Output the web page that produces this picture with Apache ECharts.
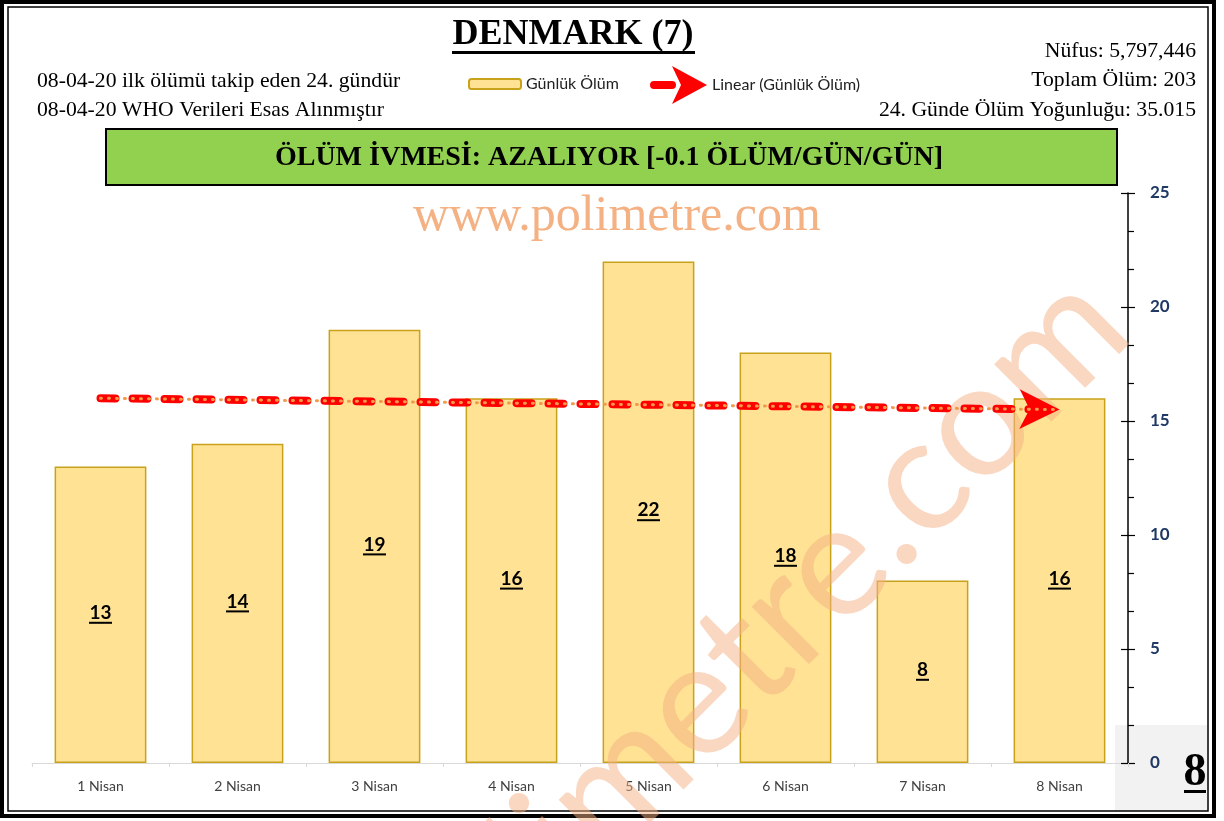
<!DOCTYPE html>
<html>
<head>
<meta charset="utf-8">
<script src="https://cdn.jsdelivr.net/npm/echarts@6/dist/echarts.min.js"></script>
<style>
  html, body { margin: 0; padding: 0; background: #fff; }
  #main { width: 1224px; height: 821px; }
</style>
</head>
<body>
<div id="main"></div>
<script>
"use strict"
// daily deaths, Denmark
const categories = ['1 Nisan', '2 Nisan', '3 Nisan', '4 Nisan', '5 Nisan', '6 Nisan', '7 Nisan', '8 Nisan'];
const deaths = [13, 14, 19, 16, 22, 18, 8, 16];
// linear trend, first and last day
const trendEnds = [16.0, 15.5];
const yMin = 0, yMax = 25, yStep = 5;

const serif = '"Liberation Serif", "Times New Roman", serif';
const sans = 'Lato, "Open Sans", sans-serif';

let chart = echarts.init(document.getElementById('main'), null, { renderer: 'canvas' });

// red dash + notched arrow for the trend legend
const legendArrow = 'path://M4,15 L22,15 A4,4 0 0 1 22,23 L4,23 A4,4 0 0 1 4,15 Z M22,0 L57,19 L22,38 L31,19 Z';

let option = {
    animation: false,
    backgroundColor: '#fff',
    grid: { left: 32, right: 96, top: 193, bottom: 58 },
    legend: [{
        left: 463, top: 71,
        itemWidth: 52, itemHeight: 10,
        textStyle: { fontFamily: sans, fontSize: 16, color: '#222' },
        data: ['Günlük Ölüm'],
    }, {
        left: 645, top: 61,
        itemWidth: 57, itemHeight: 38,
        textStyle: { fontFamily: sans, fontSize: 16, color: '#222' },
        data: [{ name: 'Linear (Günlük Ölüm)', icon: legendArrow }],
    }],
    xAxis: {
        type: 'category',
        data: categories,
        axisLine: { lineStyle: { color: '#d9d9d9', width: 1 } },
        axisTick: { show: true, length: 4, lineStyle: { color: '#d9d9d9' } },
        axisLabel: { fontFamily: sans, fontSize: 14, color: '#404040', margin: 16 },
    },
    yAxis: [{
        type: 'value',
        position: 'right',
        min: yMin, max: yMax, interval: yStep,
        splitLine: { show: false },
        axisLine: { show: true, lineStyle: { color: '#000', width: 1.5 } },
        axisTick: { show: true, length: 7, lineStyle: { color: '#000', width: 1.2 } },
        minorTick: { show: true, splitNumber: 3, length: 6, lineStyle: { color: '#000', width: 1.2 } },
        axisLabel: { fontFamily: sans, fontSize: 17, fontWeight: 'bold', color: '#1f3864', margin: 22 },
    }, {
        // inner half of the crossing major ticks
        type: 'value',
        position: 'right',
        min: yMin, max: yMax, interval: yStep,
        splitLine: { show: false },
        axisLine: { show: false },
        axisTick: { show: true, inside: true, length: 7, lineStyle: { color: '#000', width: 1.2 } },
        axisLabel: { show: false },
    }],
    series: [{
        name: 'Günlük Ölüm',
        type: 'bar',
        data: deaths,
        barCategoryGap: '33%',
        z: 2,
        itemStyle: { color: '#ffe293', borderColor: '#c9a21c', borderWidth: 1.5 },
        label: {
            show: true,
            position: 'inside',
            formatter: function (p) {
                let s = String(p.value);
                return '{n|' + s + '}\n{' + (s.length > 1 ? 'u2' : 'u1') + '|}';
            },
            rich: {
                n: { fontFamily: sans, fontSize: 19, fontWeight: 'bold', color: '#000', lineHeight: 16 },
                u1: { backgroundColor: '#000', height: 2, lineHeight: 4, width: 13 },
                u2: { backgroundColor: '#000', height: 2, lineHeight: 4, width: 23 },
            },
        },
    }, {
        name: 'Linear (Günlük Ölüm)',
        type: 'line',
        data: [],
        z: 5,
        itemStyle: { color: '#ff0000' },
        markLine: {
            silent: true,
            symbol: ['none', 'arrow'],
            symbolSize: [30, 40],
            label: { show: false },
            lineStyle: { color: '#ff0000', width: 8, type: [15, 17], cap: 'round' },
            itemStyle: { color: '#ff0000' },
            emphasis: { disabled: true },
            data: [[{ coord: [categories[0], trendEnds[0]] }, { coord: [categories[7], trendEnds[1]] }]],
        },
    }, {
        name: 'trend dots',
        type: 'line',
        data: [],
        z: 6,
        markLine: {
            silent: true,
            symbol: ['none', 'none'],
            label: { show: false },
            lineStyle: { color: '#f39a4a', width: 3, type: [1, 7], cap: 'round' },
            emphasis: { disabled: true },
            data: [[{ coord: [categories[0], trendEnds[0]] }, { coord: [categories[7], trendEnds[1]] }]],
        },
    }],
    graphic: [
        // frame
        { type: 'rect', z: 0, shape: { x: 2, y: 2, width: 1212, height: 814 }, style: { fill: 'none', stroke: '#000', lineWidth: 4 } },
        { type: 'rect', z: 0, shape: { x: 8, y: 7, width: 1200, height: 804 }, style: { fill: 'none', stroke: '#000', lineWidth: 1.5 } },
        // grey corner box
        { type: 'rect', z: -1, shape: { x: 1115, y: 725, width: 92, height: 86 }, style: { fill: '#f2f2f2' } },
        { type: 'text', z: 10, style: { text: '8', x: 1195, y: 773, font: 'bold 46px ' + serif, fill: '#000', align: 'center', verticalAlign: 'middle' } },
        { type: 'rect', z: 10, shape: { x: 1184, y: 790, width: 22, height: 3 }, style: { fill: '#000' } },
        // title
        { type: 'text', z: 10, style: { text: 'DENMARK (7)', x: 573, y: 35, font: 'bold 36px ' + serif, fill: '#000', align: 'center', verticalAlign: 'middle' } },
        { type: 'rect', z: 10, shape: { x: 452, y: 51, width: 243, height: 3 }, style: { fill: '#000' } },
        // left info
        { type: 'text', z: 10, style: { text: '08-04-20 ilk ölümü takip eden 24. gündür', x: 37, y: 81, font: '21.7px ' + serif, fill: '#000', align: 'left', verticalAlign: 'middle' } },
        { type: 'text', z: 10, style: { text: '08-04-20 WHO Verileri Esas Alınmıştır', x: 37, y: 110, font: '21.7px ' + serif, fill: '#000', align: 'left', verticalAlign: 'middle' } },
        // right info
        { type: 'text', z: 10, style: { text: 'Nüfus: 5,797,446', x: 1196, y: 51, font: '21.7px ' + serif, fill: '#000', align: 'right', verticalAlign: 'middle' } },
        { type: 'text', z: 10, style: { text: 'Toplam Ölüm: 203', x: 1196, y: 80, font: '21.7px ' + serif, fill: '#000', align: 'right', verticalAlign: 'middle' } },
        { type: 'text', z: 10, style: { text: '24. Günde Ölüm Yoğunluğu: 35.015', x: 1196, y: 110, font: '21.7px ' + serif, fill: '#000', align: 'right', verticalAlign: 'middle' } },
        // green banner
        { type: 'rect', z: 10, shape: { x: 106, y: 129, width: 1011, height: 56 }, style: { fill: '#92d050', stroke: '#000', lineWidth: 2 } },
        { type: 'text', z: 11, style: { text: 'ÖLÜM İVMESİ: AZALIYOR [-0.1 ÖLÜM/GÜN/GÜN]', x: 609, y: 158, font: 'bold 28px ' + serif, fill: '#000', align: 'center', verticalAlign: 'middle' } },
        // watermarks
        { type: 'text', z: 10, style: { text: 'www.polimetre.com', x: 617, y: 217, font: '50px ' + serif, fill: '#f4b183', align: 'center', verticalAlign: 'middle' } },
        { type: 'text', z: 3, x: 1100, y: 300, rotation: Math.PI / 4, style: { text: 'polimetre.com', x: 0, y: 0, font: '160px ' + sans, fill: 'rgba(244,176,132,0.5)', align: 'right', verticalAlign: 'middle' } },
    ],
};

chart.setOption(option);
</script>
</body>
</html>
